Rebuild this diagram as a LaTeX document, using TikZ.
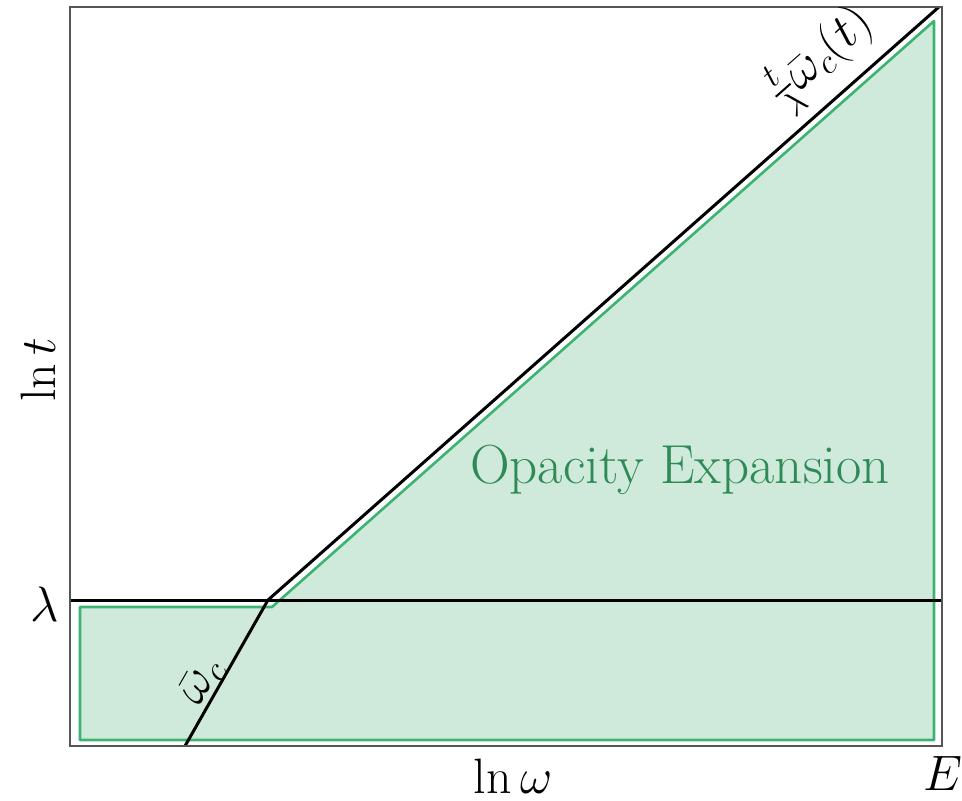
\documentclass[tikz,border=0pt]{standalone}
\usepackage{amsmath}
\definecolor{fillgreen}{HTML}{CFEADB}
\definecolor{edgegreen}{HTML}{3CB371}
\definecolor{textgreen}{HTML}{2E8B57}
\definecolor{framegray}{HTML}{555555}
\tikzset{
  framebox/.style={draw=framegray, line width=0.8pt},
  blackline/.style={draw=black, line width=1.5pt},
  region/.style={fill=fillgreen, draw=edgegreen, line width=1.3pt, line join=round},
  lbl/.style={inner sep=0pt, font=\fontsize{24}{28}\selectfont},
}
\begin{document}
\begin{tikzpicture}[x=0.5pt, y=-0.5pt]
\useasboundingbox (0,0) rectangle (962,801);
% key points
\coordinate (fl) at (70,7);
\coordinate (fr) at (942,746);
\coordinate (kink) at (268,600);
\coordinate (top) at (940,6);
\coordinate (bot) at (185,746);
\coordinate (lamL) at (70,600);
\coordinate (lamR) at (942,600);
% green region
\path[region] (80,607) -- (272,607) -- (934,21) -- (934,740) -- (80,740) -- cycle;
% lines
\begin{scope}
\clip (fl) rectangle (fr);
\draw[blackline] (lamL) -- (lamR);
\draw[blackline] (bot) -- (kink) -- (top);
\end{scope}
\draw[framebox] (fl) rectangle (fr);
% labels
\node[lbl, rotate=90] (lnt) at (38,370) {$\ln t$};
\node[lbl] (lam) at (45,604) {$\lambda$};
\node[lbl] (lnw) at (513,776) {$\ln\omega$};
\node[lbl] (E) at (943,773) {$E$};
\node[lbl, text=textgreen, font=\fontsize{27.5}{32}\selectfont] (opex) at (680,470) {Opacity Expansion};
\node[lbl, rotate=41.5, anchor=south] (wct) at (840,80) {$\frac{t}{\lambda}\bar{\omega}_c(t)$};
\node[lbl, rotate=60.4, anchor=south] (wc) at (218,690) {$\bar{\omega}_c$};
\end{tikzpicture}
\end{document}
